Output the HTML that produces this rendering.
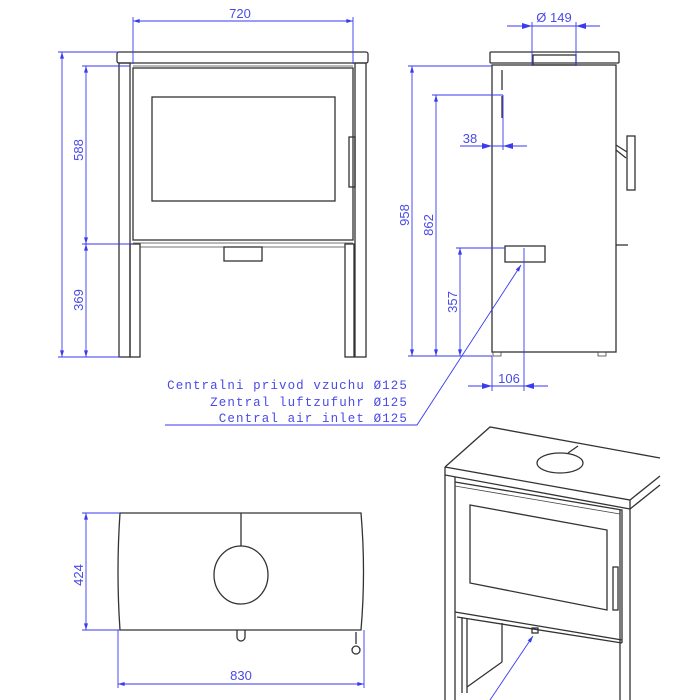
<!DOCTYPE html>
<html><head><meta charset="utf-8"><style>
html,body{margin:0;padding:0;background:#fff;}
svg{display:block;}
.k{fill:none;stroke:#333;stroke-width:1.3;}
.kt{fill:none;stroke:#444;stroke-width:0.8;}
.b{fill:none;stroke:#3a3af0;stroke-width:0.9;}
.t{fill:#4a4ae8;font-family:"Liberation Sans",sans-serif;font-size:13px;}
.m{fill:#4a4ae8;font-family:"Liberation Mono",monospace;font-size:12.5px;letter-spacing:1.1px;}
</style></head><body>
<svg width="700" height="700" viewBox="0 0 700 700" xmlns="http://www.w3.org/2000/svg">
<defs>
<marker id="a" viewBox="0 0 10 6" refX="10" refY="3" markerWidth="10" markerHeight="4" orient="auto-start-reverse" markerUnits="userSpaceOnUse"><path d="M0,0L10,3L0,6z" fill="#3a3af0"/></marker>
</defs>

<!-- FRONT VIEW -->
<rect class="k" x="117" y="52" width="251" height="11" rx="2"/>
<line class="kt" x1="133" y1="66" x2="353" y2="66"/>
<rect class="k" x="119" y="63" width="11" height="294"/>
<rect class="k" x="130" y="244" width="10" height="113"/>
<rect class="k" x="355" y="63" width="11" height="294"/>
<rect class="k" x="345" y="244" width="9" height="113"/>
<rect class="k" x="133" y="68" width="220" height="172"/>
<rect class="k" x="152" y="97" width="183" height="104"/>
<rect class="k" x="349" y="137" width="6" height="50"/>
<line class="kt" x1="133" y1="243" x2="353" y2="243"/>
<line class="kt" x1="140" y1="247" x2="345" y2="247"/>
<rect class="k" x="224" y="247" width="38" height="14"/>
<!-- front dims -->
<line class="b" x1="133" y1="21" x2="353" y2="21" marker-start="url(#a)" marker-end="url(#a)"/>
<line class="b" x1="133" y1="17" x2="133" y2="64"/>
<line class="b" x1="353" y1="17" x2="353" y2="64"/>
<text class="t" x="240" y="18" text-anchor="middle">720</text>
<line class="b" x1="58" y1="52" x2="118" y2="52"/>
<line class="b" x1="82" y1="66" x2="130" y2="66"/>
<line class="b" x1="82" y1="244" x2="133" y2="244"/>
<line class="b" x1="58" y1="357" x2="120" y2="357"/>
<line class="b" x1="62" y1="52" x2="62" y2="357" marker-start="url(#a)" marker-end="url(#a)"/>
<line class="b" x1="86" y1="66" x2="86" y2="244" marker-start="url(#a)" marker-end="url(#a)"/>
<line class="b" x1="86" y1="244" x2="86" y2="357" marker-start="url(#a)" marker-end="url(#a)"/>
<text class="t" transform="translate(83,150) rotate(-90)" text-anchor="middle">588</text>
<text class="t" transform="translate(83,300) rotate(-90)" text-anchor="middle">369</text>

<!-- SIDE VIEW -->
<rect class="k" x="490" y="52" width="129" height="11" rx="1"/>
<rect class="k" x="533" y="55" width="43" height="10"/>
<rect class="k" x="492" y="65" width="124" height="287"/>
<line class="k" x1="502" y1="70" x2="502" y2="90"/>
<line class="k" x1="502" y1="96" x2="502" y2="118"/>
<rect class="k" x="505" y="246" width="40" height="16"/>
<path class="k" d="M616,145 L627,152 M616,150 L626,158"/>
<rect class="k" x="627" y="136" width="8" height="54"/>
<line class="k" x1="616" y1="245" x2="628" y2="245"/>
<rect class="kt" x="493" y="352" width="8" height="4"/>
<rect class="kt" x="598" y="352" width="8" height="4"/>
<!-- side dims -->
<line class="b" x1="507" y1="26" x2="600" y2="26"/>
<path d="M532,26 l-10,-3 v6z M576,26 l10,-3 v6z" fill="#3a3af0"/>
<line class="b" x1="532" y1="22" x2="532" y2="66"/>
<line class="b" x1="576" y1="22" x2="576" y2="66"/>
<text class="t" x="554" y="22" text-anchor="middle">Ø 149</text>
<line class="b" x1="408" y1="66" x2="492" y2="66"/>
<line class="b" x1="432" y1="95" x2="503" y2="95"/>
<line class="b" x1="456" y1="248" x2="505" y2="248"/>
<line class="b" x1="408" y1="356" x2="492" y2="356"/>
<line class="b" x1="412" y1="66" x2="412" y2="356" marker-start="url(#a)" marker-end="url(#a)"/>
<line class="b" x1="436" y1="95" x2="436" y2="356" marker-start="url(#a)" marker-end="url(#a)"/>
<line class="b" x1="460" y1="248" x2="460" y2="356" marker-start="url(#a)" marker-end="url(#a)"/>
<text class="t" transform="translate(409,215) rotate(-90)" text-anchor="middle">958</text>
<text class="t" transform="translate(433,225) rotate(-90)" text-anchor="middle">862</text>
<text class="t" transform="translate(457,302) rotate(-90)" text-anchor="middle">357</text>
<line class="b" x1="503" y1="95" x2="503" y2="150"/>
<line class="b" x1="460" y1="146" x2="527" y2="146"/>
<path d="M492,146 l-10,-3 v6z M503,146 l10,-3 v6z" fill="#3a3af0"/>
<text class="t" x="470" y="143" text-anchor="middle">38</text>
<line class="b" x1="524" y1="248" x2="524" y2="391"/>
<line class="b" x1="492" y1="356" x2="492" y2="391"/>
<line class="b" x1="468" y1="386" x2="548" y2="386"/>
<path d="M492,386 l-10,-3 v6z M524,386 l10,-3 v6z" fill="#3a3af0"/>
<text class="t" x="509" y="383" text-anchor="middle">106</text>
<!-- leader -->
<polyline class="b" points="165,425 417,425 521,265" marker-end="url(#a)"/>
<text class="m" x="408" y="389" text-anchor="end">Centralni privod vzuchu Ø125</text>
<text class="m" x="408" y="406" text-anchor="end">Zentral luftzufuhr Ø125</text>
<text class="m" x="408" y="422" text-anchor="end">Central air inlet Ø125</text>

<!-- TOP VIEW -->
<path class="k" d="M120,513 L361,513 Q366,572 361,630 L120,630 Q116,572 120,513 Z"/>
<line class="k" x1="241" y1="513" x2="241" y2="546"/>
<ellipse class="k" cx="241" cy="575" rx="27" ry="29" stroke-width="2"/>
<path class="k" d="M237,630 v7 a4,4 0 0 0 8,0 v-7"/>
<line class="k" x1="356" y1="632" x2="356" y2="644"/>
<circle class="k" cx="356" cy="650" r="4"/>
<line class="b" x1="82" y1="513" x2="120" y2="513"/>
<line class="b" x1="82" y1="630" x2="120" y2="630"/>
<line class="b" x1="86" y1="513" x2="86" y2="630" marker-start="url(#a)" marker-end="url(#a)"/>
<text class="t" transform="translate(83,575) rotate(-90)" text-anchor="middle">424</text>
<line class="b" x1="118" y1="630" x2="118" y2="688"/>
<line class="b" x1="364" y1="630" x2="364" y2="688"/>
<line class="b" x1="118" y1="684" x2="364" y2="684" marker-start="url(#a)" marker-end="url(#a)"/>
<text class="t" x="241" y="680" text-anchor="middle">830</text>

<!-- PERSPECTIVE -->
<path class="k" d="M445,467 L490,427 L660,458 M445,467 L630,500 L660,476 M445,467 L445,475 L630,509 L630,500 M630,509 L660,485"/>
<line class="k" x1="578" y1="446" x2="568" y2="453"/>
<ellipse class="k" cx="560" cy="463" rx="23" ry="10"/>
<line class="k" x1="445" y1="475" x2="445" y2="700"/>
<line class="k" x1="455" y1="477" x2="455" y2="700"/>
<path class="k" d="M455,482 L622,510 L622,643 M455,612 L622,640 M457,617 L622,643"/>
<line class="kt" x1="455" y1="486" x2="620" y2="514"/>
<line class="k" x1="620" y1="510" x2="620" y2="700"/>
<line class="k" x1="630" y1="509" x2="630" y2="700"/>
<path class="k" d="M470,505 L607,530 L607,610 L470,583 Z"/>
<rect class="k" x="613" y="567" width="5" height="43"/>
<line class="k" x1="462" y1="617" x2="462" y2="693"/>
<line class="k" x1="467" y1="618" x2="467" y2="693"/>
<line class="k" x1="502" y1="623" x2="502" y2="662"/>
<line class="k" x1="467" y1="687" x2="502" y2="662"/>
<rect class="k" x="532" y="628" width="6" height="5"/>
<line class="b" x1="490" y1="700" x2="533" y2="636" marker-end="url(#a)"/>
</svg>
</body></html>
